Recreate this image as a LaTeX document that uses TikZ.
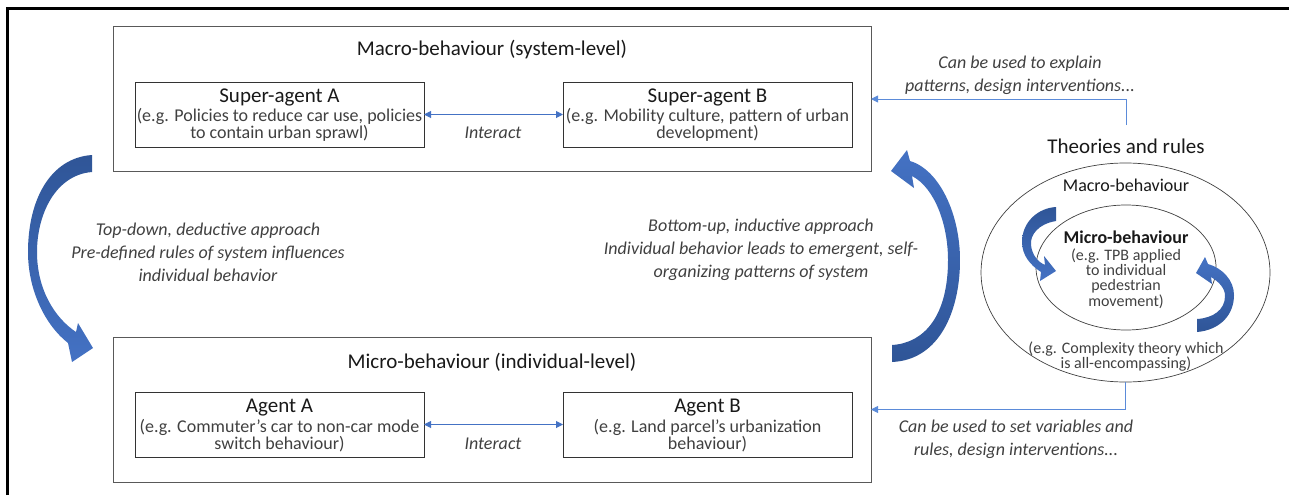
\documentclass[tikz,border=0pt]{standalone}
\usepackage{fontspec}
\setmainfont{Carlito}
\usetikzlibrary{shapes.geometric,arrows.meta}
\definecolor{dblue}{HTML}{2F5597}
\definecolor{lblue}{HTML}{4472C4}
\definecolor{cblue}{HTML}{5B8BD9}
\definecolor{txt}{HTML}{404040}
\definecolor{boxc}{HTML}{595959}
\begin{document}
\begin{tikzpicture}[x=1pt,y=-1pt,
 bigbox/.style={draw=boxc, line width=0.9pt, minimum width=758pt, minimum height=145pt, inner sep=0pt, outer sep=0pt},
 agbox/.style={draw=black!80, line width=0.9pt, minimum width=289pt, minimum height=65pt, inner sep=0pt, outer sep=0pt},
 ttl/.style={anchor=base, font=\fontsize{21}{25}\selectfont, text=black!90, inner sep=0pt},
 body/.style={anchor=base, font=\fontsize{18}{21}\selectfont, text=txt, inner sep=0pt},
 note/.style={anchor=base, font=\fontsize{18}{21}\selectfont\itshape, text=txt, inner sep=0pt},
 small/.style={anchor=base, font=\fontsize{16}{19}\selectfont, text=txt, inner sep=0pt},
 link/.style={draw=cblue, line width=0.9pt, -{Triangle[width=7pt,length=7pt]}},
 inter/.style={draw=lblue, line width=1pt, {Triangle[width=7pt,length=7pt]}-{Triangle[width=7pt,length=7pt]}},
 oval/.style={draw=black!75, line width=0.7pt, ellipse, inner sep=0pt, outer sep=0pt},
]
\useasboundingbox (0,0) rectangle (1289,495);
% frame
\draw[line width=3pt] (7.5,495) -- (7.5,9) -- (1289,9);

% system-level box
\node[bigbox] (macro) at (492,99) {};
\node[agbox] (sa) at (279.5,114.5) {};
\node[agbox] (sb) at (707.5,114.5) {};
\node[ttl] (macrot) at (492,56) {Macro-behaviour (system-level)};
\node[ttl] (sat) at (279.5,102) {Super-agent A};
\node[body] (sa1) at (279.5,121) {(e.g. Policies to reduce car use, policies};
\node[body] (sa2) at (279.5,138) {to contain urban sprawl)};
\node[ttl] (sbt) at (707.5,102) {Super-agent B};
\node[body] (sb1) at (707.5,121) {(e.g. Mobility culture, pattern of urban};
\node[body] (sb2) at (707.5,138) {development)};
\draw[inter] (sa) -- (sb);
\node[note] (i1) at (493,138) {Interact};

% individual-level box
\node[bigbox] (micro) at (492,409.5) {};
\node[agbox] (aa) at (279.5,424.5) {};
\node[agbox] (ab) at (707.5,424.5) {};
\node[ttl] (microt) at (492,368) {Micro-behaviour (individual-level)};
\node[ttl] (aat) at (279.5,412) {Agent A};
\node[body] (aa1) at (279.5,432) {(e.g. Commuter’s car to non-car mode};
\node[body] (aa2) at (279.5,449) {switch behaviour)};
\node[ttl] (abt) at (707.5,412) {Agent B};
\node[body] (ab1) at (707.5,432) {(e.g. Land parcel’s urbanization};
\node[body] (ab2) at (707.5,449) {behaviour)};
\draw[inter] (aa) -- (ab);
\node[note] (i2) at (493,449) {Interact};

% approach notes
\node[note] (l1) at (208,235) {Top-down, deductive approach};
\node[note] (l2) at (208,258) {Pre-defined rules of system influences};
\node[note] (l3) at (208,281) {individual behavior};
\node[note] (r1) at (761,231) {Bottom-up, inductive approach};
\node[note] (r2) at (761,254) {Individual behavior leads to emergent, self-};
\node[note] (r3) at (761,277) {organizing patterns of system};

% big curved arrows
\shade[top color=dblue, bottom color=lblue] (92,155) -- (92,172) .. controls (55,175) and (37,215) .. (37,252) .. controls (37,290) and (55,318) .. (76,332) -- (78,323) -- (93,348) -- (72,362) -- (68,343) .. controls (45,325) and (28,290) .. (28,252) .. controls (28,200) and (50,158) .. (92,155) -- cycle;
\shade[top color=lblue, bottom color=dblue] (892,345) -- (892,362) .. controls (940,360) and (960,310) .. (960,260) .. controls (960,215) and (940,170) .. (910,161) -- (907,150) -- (891,171) -- (914,188) -- (912,176) .. controls (935,188) and (948,225) .. (948,260) .. controls (948,315) and (925,343) .. (892,345) -- cycle;

% theories and rules
\node[ttl] (theo) at (1126,153) {Theories and rules};
\node[oval, minimum width=289pt, minimum height=219pt] (oell) at (1125.5,272.5) {};
\node[oval, minimum width=180pt, minimum height=125pt] (iell) at (1126,267.5) {};
\node[body, text=black!90] (om) at (1126,191) {Macro-behaviour};
\node[body, text=black!90, font=\fontsize{18}{21}\selectfont\bfseries] (im) at (1126,243) {Micro-behaviour};
\node[small] (im1) at (1126,260) {(e.g. TPB applied};
\node[small] (im2) at (1126,275) {to individual};
\node[small] (im3) at (1126,290) {pedestrian};
\node[small] (im4) at (1126,306) {movement)};
\node[small] (om1) at (1126,353) {(e.g. Complexity theory which};
\node[small] (om2) at (1126,368) {is all-encompassing)};

% small curved arrows
\shade[top color=dblue, bottom color=lblue] (1056,207) -- (1056,221) .. controls (1038,224) and (1030,235) .. (1031,245) .. controls (1032,255) and (1038,262) .. (1045,265) -- (1044,256) -- (1056,271) -- (1040,281) -- (1041,272) .. controls (1030,265) and (1022,255) .. (1022,242) .. controls (1022,222) and (1038,208) .. (1056,207) -- cycle;
\shade[top color=lblue, bottom color=dblue] (1197,319) -- (1197,332) .. controls (1220,330) and (1234,315) .. (1234,295) .. controls (1234,280) and (1222,268) .. (1208,264) -- (1205,257) -- (1196,273) -- (1212,284) -- (1211,277) .. controls (1219,282) and (1225,288) .. (1225,296) .. controls (1225,310) and (1213,318) .. (1197,319) -- cycle;

% links
\coordinate (thtop) at (1126,125);
\draw[link] (thtop) |- (macro.east);
\draw[link] (oell.south) |- (micro.east);
\node[note] (t1) at (1020,68) {Can be used to explain};
\node[note] (t2) at (1020,91) {patterns, design interventions...};
\node[note] (b1) at (1016,432) {Can be used to set variables and};
\node[note] (b2) at (1016,455) {rules, design interventions...};
\end{tikzpicture}
\end{document}
